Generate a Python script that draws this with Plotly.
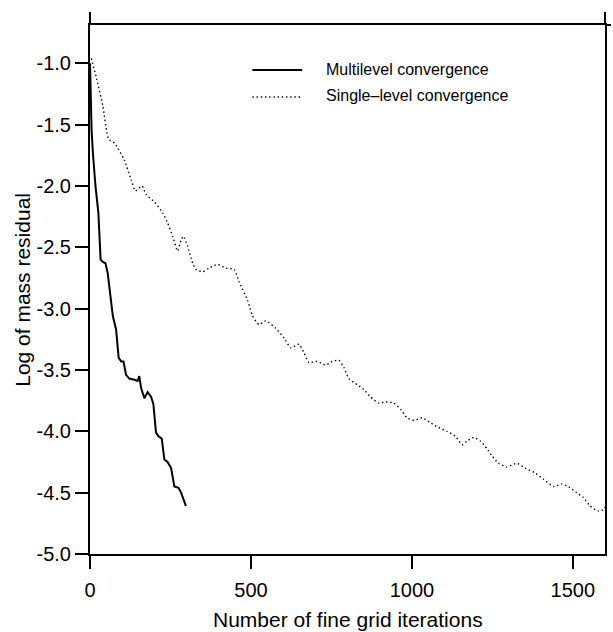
import plotly.graph_objects as go

# Multilevel convergence (solid)
multi_x = [0, 2, 5, 9, 17, 26, 30, 33, 40, 48, 55, 63, 71, 81, 86, 89, 97, 104, 112, 122,
           138, 148, 153, 159, 169, 179, 190, 197, 205, 213, 223, 231, 241, 252, 262, 275,
           283, 298]
multi_y = [-1.0, -1.38, -1.55, -1.73, -2.0, -2.22, -2.45, -2.6, -2.62, -2.63, -2.71, -2.9,
           -3.06, -3.17, -3.3, -3.40, -3.43, -3.43, -3.54, -3.57, -3.58, -3.59, -3.55, -3.65,
           -3.73, -3.68, -3.72, -3.78, -4.01, -4.04, -4.06, -4.23, -4.25, -4.30, -4.45, -4.46,
           -4.50, -4.61]

# Single-level convergence (dotted)
single_x = [4, 19, 40, 58, 76, 107, 128, 141, 162, 174, 200, 226, 241, 257, 272, 283, 290,
            303, 319, 329, 350, 370, 396, 422, 448, 463, 489, 505, 525, 546, 577, 603, 624,
            649, 665, 680, 706, 732, 753, 773, 789, 804, 830, 851, 872, 897, 918, 944, 965,
            985, 1006, 1032, 1058, 1083, 1109, 1135, 1156, 1171, 1192, 1213, 1233, 1249,
            1269, 1295, 1326, 1352, 1383, 1409, 1440, 1466, 1486, 1512, 1533, 1554, 1579,
            1595, 1600]
single_y = [-0.96, -1.11, -1.35, -1.62, -1.65, -1.79, -1.95, -2.04, -2.0, -2.07, -2.13, -2.22,
            -2.30, -2.41, -2.53, -2.44, -2.41, -2.49, -2.63, -2.68, -2.70, -2.67, -2.64, -2.67,
            -2.68, -2.78, -2.93, -3.06, -3.13, -3.10, -3.16, -3.24, -3.32, -3.29, -3.36, -3.44,
            -3.43, -3.46, -3.43, -3.42, -3.48, -3.57, -3.62, -3.66, -3.72, -3.77, -3.76, -3.77,
            -3.82, -3.89, -3.91, -3.89, -3.93, -3.97, -4.0, -4.04, -4.11, -4.08, -4.05, -4.08,
            -4.14, -4.20, -4.26, -4.29, -4.26, -4.30, -4.34, -4.39, -4.45, -4.43, -4.45, -4.50,
            -4.54, -4.61, -4.65, -4.64, -4.62]

series_names = ["Multilevel convergence", "Single–level convergence"]

x_tickvals = [0, 500, 1000, 1500]
x_ticktext = ["0", "500", "1000", "1500"]
y_tickvals = [-5.0, -4.5, -4.0, -3.5, -3.0, -2.5, -2.0, -1.5, -1.0]
y_ticktext = ["-5.0", "-4.5", "-4.0", "-3.5", "-3.0", "-2.5", "-2.0", "-1.5", "-1.0"]

FONT = "Liberation Sans, Arial, Helvetica, sans-serif"
SOLID = dict(color="black", width=2)
DOTTED = dict(color="black", width=1.4, dash="1.4px,2.8px")

fig = go.Figure()
fig.add_trace(go.Scatter(x=multi_x, y=multi_y, mode="lines", name=series_names[0],
                         line=SOLID, showlegend=False))
fig.add_trace(go.Scatter(x=single_x, y=single_y, mode="lines", name=series_names[1],
                         line=dict(**DOTTED, shape="spline", smoothing=0.5),
                         showlegend=False))

# Hand-built legend (key lines + labels)
legend_rows = [(0.9149, 0.9168, SOLID), (0.8639, 0.8658, DOTTED)]
shapes = []
annotations = []
for name, (ly, ty, style) in zip(series_names, legend_rows):
    shapes.append(dict(type="line", xref="paper", yref="paper", x0=0.3153, x1=0.412,
                       y0=ly, y1=ly, line=style))
    annotations.append(dict(text=name, xref="paper", yref="paper", x=0.4545, y=ty,
                            xanchor="left", yanchor="middle", showarrow=False,
                            font=dict(size=16)))

# Frame extensions
ext = dict(color="black", width=2)
shapes += [
    dict(type="line", xref="paper", yref="paper", x0=0, x1=0, y0=1, y1=1.0246, line=ext),
    dict(type="line", xref="paper", yref="paper", x0=0, x1=0, y0=0, y1=-0.0246, line=ext),
    dict(type="line", xref="paper", yref="paper", x0=1, x1=1, y0=1, y1=1.0246, line=ext),
    dict(type="line", xref="paper", yref="paper", x0=1, x1=1.0116, y0=1, y1=1, line=ext),
]

annotations += [
    dict(text="Number of fine grid iterations", xref="paper", yref="paper",
         x=0.5, y=-0.123, xanchor="center", yanchor="middle", showarrow=False,
         font=dict(size=21)),
    dict(text="Log of mass residual", xref="paper", yref="paper",
         x=-0.1315, y=0.5, xanchor="center", yanchor="middle", showarrow=False,
         textangle=-90, font=dict(size=21)),
]

fig.update_layout(
    width=613, height=632,
    margin=dict(l=90, r=6, t=25, b=78),
    paper_bgcolor="white", plot_bgcolor="white",
    font=dict(family=FONT, color="black"),
    showlegend=False,
    xaxis=dict(range=[0, 1600], tickvals=x_tickvals, ticktext=x_ticktext,
               ticks="outside", ticklen=13, tickwidth=1.5, tickcolor="black",
               ticklabelstandoff=4,
               showline=True, linecolor="black", linewidth=2, mirror=True,
               showgrid=False, zeroline=False, tickfont=dict(size=20)),
    yaxis=dict(range=[-5.0, -0.688], tickvals=y_tickvals, ticktext=y_ticktext,
               ticks="outside", ticklen=13, tickwidth=1.5, tickcolor="black",
               showline=True, linecolor="black", linewidth=2, mirror=True,
               showgrid=False, zeroline=False, tickfont=dict(size=20)),
    annotations=annotations,
    shapes=shapes,
)

fig.write_html("out.html")
